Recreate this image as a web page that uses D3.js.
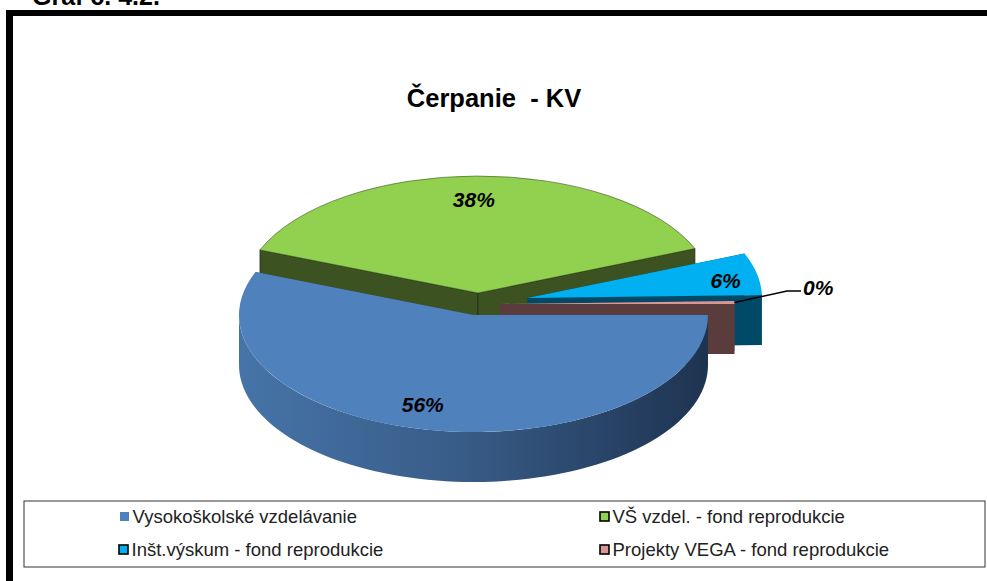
<!DOCTYPE html>
<html>
<head>
<meta charset="utf-8">
<script src="https://cdn.jsdelivr.net/npm/d3@7"></script>
<style>
  body { margin: 0; background: #fff; }
  svg { display: block; font-family: "Liberation Sans", Arial, sans-serif; }
</style>
</head>
<body>
<div id="wrapper"></div>
<script>
const categories = ["Vysokoškolské vzdelávanie", "VŠ vzdel. - fond reprodukcie", "Inšt.výskum - fond reprodukcie", "Projekty VEGA - fond reprodukcie"];
const shares = [0.560, 0.378, 0.058, 0.004];
const topColors = ["#4f81bd", "#92d050", "#00b0f0", "#d99694"];
const wallColors = ["#2f4a70", "#3c5220", "#004a68", "#5b3c3c"];
const chartTitle = "Čerpanie  - KV";
const pageCaption = "Graf č. 4.2.";

const dimension = { width: 987, height: 581 };
const rx = 234.5, ry = 117, depth = 50;
// stred kazdeho dielika (vytiahnute dieliky)
const centers = [[473.5, 315], [478, 293], [527.5, 298], [500, 304]];
const drawOrder = [1, 2, 3, 0];

const svg = d3.select("#wrapper").append("svg")
    .attr("width", dimension.width)
    .attr("height", dimension.height);

const grad = svg.append("defs").append("linearGradient")
    .attr("id", "blueWall")
    .attr("gradientUnits", "userSpaceOnUse")
    .attr("x1", 240).attr("x2", 708).attr("y1", 0).attr("y2", 0);
grad.append("stop").attr("offset", "0").attr("stop-color", "#4674a8");
grad.append("stop").attr("offset", "0.5").attr("stop-color", "#375a85");
grad.append("stop").attr("offset", "1").attr("stop-color", "#1e3350");

// ram okolo grafu
svg.append("rect").attr("x", 6).attr("y", 10).attr("width", 981).attr("height", 6).attr("fill", "#000");
svg.append("rect").attr("x", 6).attr("y", 10).attr("width", 7).attr("height", 571).attr("fill", "#000");

svg.append("text")
    .attr("x", 32).attr("y", 5)
    .attr("font-size", 25).attr("font-weight", "bold")
    .text(pageCaption);

svg.append("text")
    .attr("x", 494).attr("y", 107)
    .attr("text-anchor", "middle")
    .attr("font-size", 25.5).attr("font-weight", "bold")
    .style("white-space", "pre")
    .text(chartTitle);

// kolac
const slices = d3.pie().sort(null)
    .startAngle(Math.PI / 2)
    .endAngle(Math.PI * 2.5)(shares);

const arcGen = d3.arc().innerRadius(0).outerRadius(rx);
const pt = (c, a, k = 1) => [c[0] + rx * k * Math.sin(a), c[1] - ry * k * Math.cos(a)];
const line = d3.line();

const pie = svg.append("g");

drawOrder.forEach(i => {
    const s = slices[i];
    const c = centers[i];
    const g = pie.append("g");

    // steny rezu
    [s.startAngle, s.endAngle].forEach(a => {
        const e = pt(c, a);
        g.append("path")
            .attr("d", line([c, e, [e[0], e[1] + depth], [c[0], c[1] + depth]]) + "Z")
            .attr("fill", wallColors[i])
            .attr("stroke", i === 1 ? "#1f2d10" : "none")
            .attr("stroke-width", 0.7);
    });

    // vonkajsia stena, len predna polovica
    const from = Math.max(s.startAngle, Math.PI / 2);
    const to = Math.min(s.endAngle, Math.PI * 1.5);
    if (to > from) {
        const outer = d3.range(0, 81).map(t => pt(c, from + (to - from) * t / 80));
        const lower = outer.slice().reverse().map(p => [p[0], p[1] + depth]);
        g.append("path")
            .attr("d", line(outer.concat(lower)) + "Z")
            .attr("fill", i === 0 ? "url(#blueWall)" : wallColors[i]);
    }

    // vrchna plocha
    g.append("path")
        .attr("transform", `translate(${c[0]},${c[1]}) scale(1,${ry / rx})`)
        .attr("d", arcGen(s))
        .attr("fill", topColors[i])
        .attr("stroke", i === 1 ? "#2c3d17" : "none")
        .attr("stroke-width", 0.7);
});

// popisky
const pct = d3.format(".0%");
const labelShift = [[-16, -1], [-3, -1], [3, 3]];
[0, 1, 2].forEach(i => {
    const s = slices[i];
    const mid = (s.startAngle + s.endAngle) / 2;
    const p = pt(centers[i], mid, i === 2 ? 0.85 : 0.79);
    svg.append("text")
        .attr("x", p[0] + labelShift[i][0])
        .attr("y", p[1] + labelShift[i][1] + 7)
        .attr("text-anchor", "middle")
        .attr("font-size", 21).attr("font-weight", "bold").attr("font-style", "italic")
        .text(pct(shares[i]));
});

// posledny dielik ma popisok s vodiacou ciarou
const lastMid = (slices[3].startAngle + slices[3].endAngle) / 2;
const lastEdge = pt(centers[3], lastMid);
svg.append("path")
    .attr("d", line([lastEdge, [787, 291], [801, 291]]))
    .attr("fill", "none").attr("stroke", "#000").attr("stroke-width", 1.6);
svg.append("text")
    .attr("x", 803).attr("y", 295)
    .attr("font-size", 21).attr("font-weight", "bold").attr("font-style", "italic")
    .text(pct(shares[3]));

// legenda
svg.append("rect")
    .attr("x", 24).attr("y", 501).attr("width", 961).attr("height", 66)
    .attr("fill", "#fff").attr("stroke", "#333").attr("stroke-width", 1);

const legendX = [120, 600, 119, 600];
const legendY = [517, 517, 550, 550];
categories.forEach((name, i) => {
    svg.append("rect")
        .attr("x", legendX[i]).attr("y", legendY[i] - 5)
        .attr("width", 9).attr("height", 9)
        .attr("fill", topColors[i])
        .attr("stroke", i === 0 ? "none" : "#000")
        .attr("stroke-width", 1.6);
    svg.append("text")
        .attr("x", legendX[i] + 12.5).attr("y", legendY[i] + 6)
        .attr("font-size", 18.5).attr("fill", "#222")
        .text(name);
});
</script>
</body>
</html>
